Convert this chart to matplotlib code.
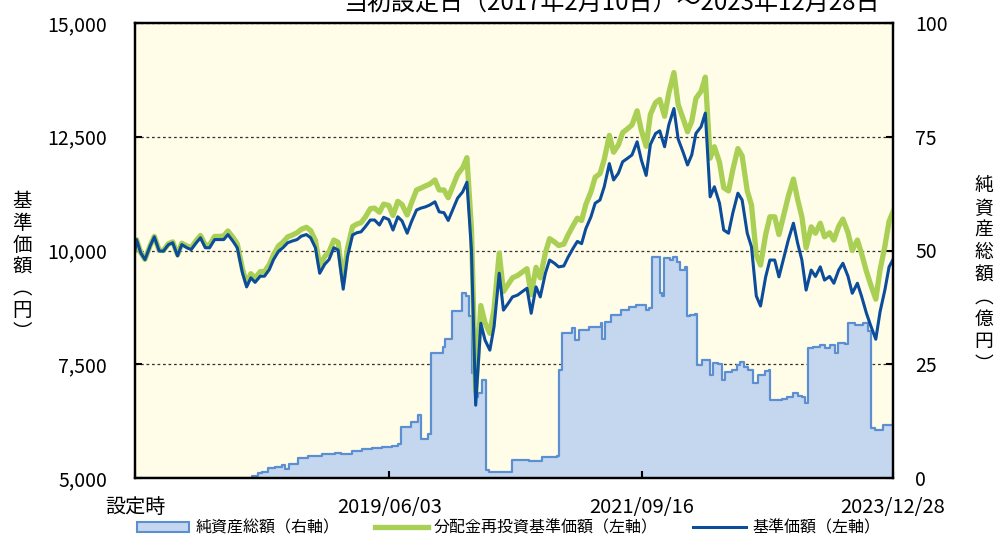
import matplotlib
matplotlib.use("Agg")
import matplotlib.pyplot as plt
from matplotlib.patches import Patch
from matplotlib.lines import Line2D
from matplotlib.ticker import FuncFormatter
import pandas as pd

plt.rcParams['font.family'] = ['Noto Sans CJK JP', 'DejaVu Sans']

# semi-monthly observation dates (launch date, 1st/15th of each month, last date)
price_dates = (pd.DatetimeIndex(['2017-02-10'])
               .append(pd.date_range('2017-02-15', '2023-12-15', freq='SMS'))
               .append(pd.DatetimeIndex(['2023-12-28'])))

# 基準価額 (yen)
nav = [
    # 2017
    10000, 10240, 9950, 9800, 10095, 10300, 9990, 9985, 10130, 10170, 9880,
    10130, 10060, 10020, 10170, 10280, 10060, 10060, 10240, 10240, 10240, 10350,
    # 2018
    10200, 10060, 9510, 9200, 9400, 9300, 9435, 9435, 9580, 9800, 9985, 10060,
    10170, 10205, 10240, 10315, 10350, 10280, 10060, 9500, 9700, 9800, 10060, 10010,
    # 2019
    9150, 9864, 10340, 10390, 10410, 10520, 10670, 10670, 10560, 10730, 10680, 10450,
    10740, 10650, 10380, 10630, 10890, 10930, 10960, 11000, 11070, 10850, 10830, 10660,
    # 2020
    10930, 11150, 11290, 11500, 10010, 6600, 8400, 8030, 7810, 8330, 9500, 8690,
    8840, 8980, 9020, 9090, 9170, 8620, 9200, 8980, 9500, 9790, 9720, 9640,
    # 2021
    9660, 9850, 10050, 10200, 10150, 10480, 10740, 11040, 11110, 11400, 11910, 11550,
    11700, 11950, 12030, 12100, 12390, 11990, 11650, 12330, 12570, 12630, 12280, 12760,
    # 2022
    13120, 12450, 12150, 11880, 12100, 12575, 12720, 13020, 11180, 11400, 11040, 10450,
    10380, 10820, 11260, 11110, 10380, 10080, 9000, 8780, 9420, 9790, 9790, 9420,
    # 2023
    9860, 10230, 10600, 10160, 9790, 9130, 9570, 9430, 9640, 9350, 9430, 9280,
    9570, 9720, 9430, 9060, 9280, 8990, 8620, 8350, 8050, 8650, 9130, 9640, 9800,
]

# 分配金再投資基準価額 (yen)
reinvested = [
    # 2017
    10000, 10240, 9955, 9805, 10105, 10310, 10005, 10000, 10150, 10190, 9910,
    10160, 10100, 10060, 10220, 10330, 10120, 10120, 10310, 10310, 10320, 10430,
    # 2018
    10285, 10145, 9595, 9285, 9490, 9390, 9535, 9535, 9690, 9910, 10105, 10180,
    10300, 10335, 10390, 10465, 10510, 10440, 10220, 9660, 9870, 9970, 10230, 10180,
    # 2019
    9320, 10045, 10525, 10580, 10610, 10730, 10920, 10930, 10840, 11020, 10990, 10770,
    11080, 11010, 10780, 11040, 11330, 11370, 11420, 11460, 11550, 11330, 11330, 11160,
    # 2020
    11440, 11670, 11820, 12040, 10480, 6900, 8790, 8410, 8180, 8720, 9940, 9100,
    9260, 9400, 9450, 9520, 9600, 9030, 9630, 9400, 9950, 10260, 10190, 10110,
    # 2021
    10140, 10340, 10550, 10710, 10660, 11010, 11290, 11610, 11690, 12000, 12530, 12160,
    12320, 12590, 12680, 12760, 13070, 12640, 12290, 12990, 13250, 13320, 12950, 13460,
    # 2022
    13910, 13210, 12890, 12610, 12840, 13345, 13500, 13810, 12030, 12280, 11940, 11380,
    11310, 11770, 12240, 12080, 11310, 11000, 9900, 9680, 10350, 10740, 10740, 10350,
    # 2023
    10810, 11190, 11570, 11120, 10740, 10060, 10520, 10380, 10600, 10300, 10390, 10230,
    10530, 10690, 10390, 10000, 10230, 9930, 9540, 9250, 8930, 9570, 10090, 10640, 10850,
]

# 純資産総額 (億円), value holds until the next date
na_dates = pd.to_datetime([
    '2017-02-10', '2018-03-05', '2018-03-25', '2018-04-07', '2018-04-27', '2018-05-20',
    '2018-06-12', '2018-06-22', '2018-07-05', '2018-08-04', '2018-09-06', '2018-10-23',
    '2018-12-05', '2018-12-25', '2019-01-30', '2019-03-04', '2019-04-05', '2019-05-09',
    '2019-06-12', '2019-07-01', '2019-07-11', '2019-08-14', '2019-09-06', '2019-09-16',
    '2019-10-09', '2019-10-19', '2019-11-28', '2019-12-04', '2019-12-27', '2020-01-29',
    '2020-02-11', '2020-02-21', '2020-03-02', '2020-03-12', '2020-03-22', '2020-04-04',
    '2020-04-17', '2020-04-27', '2020-07-15', '2020-09-09', '2020-10-22', '2020-12-11',
    '2020-12-17', '2020-12-27', '2021-01-29', '2021-02-08', '2021-02-21', '2021-03-27',
    '2021-05-05', '2021-05-09', '2021-05-19', '2021-06-08', '2021-07-11', '2021-08-06',
    '2021-08-29', '2021-10-02', '2021-10-12', '2021-10-19', '2021-11-15', '2021-11-21',
    '2021-11-28', '2021-12-18', '2021-12-29', '2022-01-11', '2022-01-21', '2022-02-06',
    '2022-02-13', '2022-02-23', '2022-03-13', '2022-03-19', '2022-04-05', '2022-05-01',
    '2022-05-11', '2022-05-28', '2022-06-10', '2022-06-20', '2022-07-13', '2022-07-30',
    '2022-08-09', '2022-08-22', '2022-09-04', '2022-09-21', '2022-10-07', '2022-10-30',
    '2022-11-13', '2022-11-16', '2022-12-26', '2023-01-11', '2023-01-31', '2023-02-17',
    '2023-03-03', '2023-03-13', '2023-03-20', '2023-04-06', '2023-04-29', '2023-05-15',
    '2023-06-01', '2023-06-18', '2023-06-28', '2023-07-21', '2023-07-31', '2023-08-23',
    '2023-09-18', '2023-10-05', '2023-10-15', '2023-10-28', '2023-11-24', '2023-12-28',
])
net_assets = [
    0.0, 0.4, 1.0, 1.4, 2.3, 2.5,
    2.9, 2.0, 3.0, 4.4, 4.8, 5.2,
    5.5, 5.2, 6.0, 6.4, 6.5, 6.9,
    7.1, 7.5, 11.3, 12.2, 13.8, 8.6,
    9.6, 27.5, 28.9, 30.5, 36.6, 40.6,
    40.0, 35.5, 23.0, 17.9, 18.7, 21.5,
    1.8, 1.3, 4.0, 3.8, 4.7, 4.9,
    23.7, 31.8, 32.9, 30.3, 32.5, 33.2,
    34.0, 30.5, 34.2, 35.8, 36.9, 37.6,
    38.0, 37.0, 37.3, 48.6, 40.6, 40.0,
    48.4, 48.0, 48.6, 47.5, 45.8, 46.4,
    35.5, 35.8, 36.1, 24.9, 25.9, 22.6,
    25.2, 25.0, 21.5, 23.4, 23.8, 24.9,
    25.6, 24.5, 23.8, 20.8, 22.6, 23.5,
    23.8, 17.1, 17.4, 17.8, 18.6, 18.0,
    17.8, 16.4, 28.5, 28.8, 29.2, 28.5,
    29.2, 27.4, 29.6, 29.5, 34.0, 33.7,
    34.0, 32.2, 10.9, 10.6, 11.7, 12.7,
]

tick_dates = pd.to_datetime(['2017-02-10', '2019-06-03', '2021-09-16', '2023-12-28'])
tick_labels = ['設定時', '2019/06/03', '2021/09/16', '2023/12/28']
title = '当初設定日（2017年2月10日）～2023年12月28日'

assert len(nav) == len(price_dates) == len(reinvested)
assert len(na_dates) == len(net_assets)

GREEN = '#A9CF55'
BLUE = '#0B4C9B'
AREA = '#C5D7EE'
AREA_EDGE = '#5B8FD2'

fig = plt.figure(figsize=(9.95, 5.38), dpi=100)
ax = fig.add_axes([135 / 995, 60 / 538, 758 / 995, 455 / 538])
ax2 = ax.twinx()
ax.set_zorder(ax2.get_zorder() + 1)
ax.patch.set_visible(False)
ax2.patch.set_visible(True)
ax2.patch.set_facecolor('#FFFCE8')

# net assets on the right scale, under the price lines
ax2.fill_between(na_dates, net_assets, 0, step='post', color=AREA, lw=0, zorder=1)
ax2.step(na_dates, net_assets, where='post', color=AREA_EDGE, lw=1.6, zorder=2)
ax2.set_ylim(0, 100)
ax2.set_yticks([0, 25, 50, 75, 100])
ax2.set_axisbelow(True)
ax2.yaxis.grid(True, linestyle=(0, (2.2, 2.2)), color='#333333', lw=0.9)
ax2.tick_params(axis='y', direction='in', length=5, width=1.5, labelsize=14, pad=16)

ax.plot(price_dates, reinvested, color=GREEN, lw=3.8, solid_joinstyle='round')
ax.plot(price_dates, nav, color=BLUE, lw=2.2, solid_joinstyle='round')
ax.set_ylim(5000, 15000)
ax.set_yticks([5000, 7500, 10000, 12500, 15000])
ax.yaxis.set_major_formatter(FuncFormatter(lambda v, p: f'{v:,.0f}'))
ax.tick_params(axis='y', direction='in', length=5, width=1.5, labelsize=14, pad=20)

ax.set_xlim(tick_dates[0], tick_dates[-1])
ax.set_xticks(tick_dates)
ax.set_xticklabels(tick_labels)
ax.tick_params(axis='x', direction='in', length=5, width=1.5, labelsize=14.5, pad=14)

for a in (ax, ax2):
    for s in a.spines.values():
        s.set_linewidth(1.6)
        s.set_color('black')

fig.text(22 / 995, 1 - 267 / 538, '\n'.join('基準価額︵円︶'),
         ha='center', va='center', fontsize=14, linespacing=1.05)
fig.text(984 / 995, 1 - 275 / 538, '\n'.join('純資産総額︵億円︶'),
         ha='center', va='center', fontsize=13.5, linespacing=1.08)
fig.text(611 / 995, 1 - 11 / 538, title, ha='center', va='baseline', fontsize=17.3)

handles = [
    Patch(facecolor=AREA, edgecolor=AREA_EDGE, lw=1.5),
    Line2D([], [], color=GREEN, lw=3.8),
    Line2D([], [], color=BLUE, lw=2.2),
]
labels = ['純資産総額（右軸）', '分配金再投資基準価額（左軸）', '基準価額（左軸）']
fig.legend(handles, labels, loc='center', bbox_to_anchor=(0.511, 10 / 538), ncol=3,
           frameon=False, fontsize=11.5, handlelength=3.3, handleheight=0.65,
           handletextpad=0.4, columnspacing=2.2, borderaxespad=0, borderpad=0)

fig.savefig('out.png', dpi=100)
